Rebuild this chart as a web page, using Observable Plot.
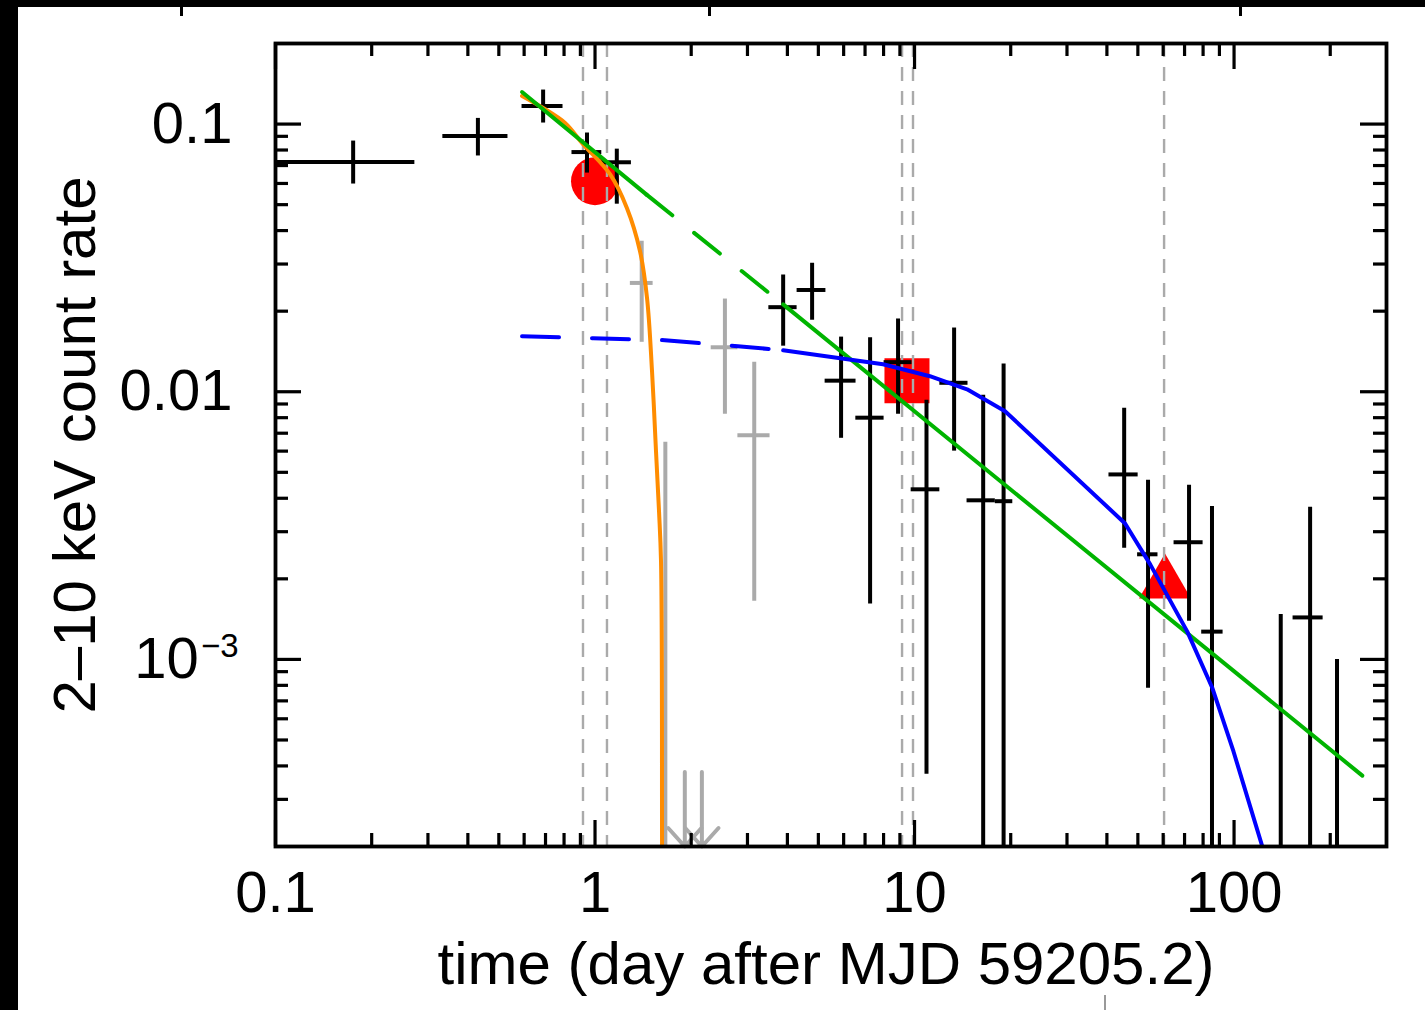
<!DOCTYPE html>
<html><head><meta charset="utf-8">
<script src="https://cdn.jsdelivr.net/npm/d3@7"></script>
<script src="https://cdn.jsdelivr.net/npm/@observablehq/plot@0.6"></script>
<style>
html,body{margin:0;padding:0;background:#fff;}
#wrap{position:relative;width:1425px;height:1010px;overflow:hidden;background:#fff;}
#wrap svg{position:absolute;left:0;top:0;}
.deco{position:absolute;}
</style></head><body>
<div id="wrap"></div>
<script>
// ---------- axes ----------
const xDomain = [0.1, 300];
const yDomain = [2e-4, 0.2];
const xTickValues = [0.1, 1, 10, 100];
const xTickLabels = ["0.1", "1", "10", "100"];
const yTickValues = [0.1, 0.01, 0.001];
const yTickLabels = ["0.1", "0.01", "10⁻³"];
const xMinorTicks = [0.2,0.3,0.4,0.5,0.6,0.7,0.8,0.9, 2,3,4,5,6,7,8,9, 20,30,40,50,60,70,80,90, 200];
const yMinorTicks = [3e-4,4e-4,5e-4,6e-4,7e-4,8e-4,9e-4, 0.002,0.003,0.004,0.005,0.006,0.007,0.008,0.009, 0.02,0.03,0.04,0.05,0.06,0.07,0.08,0.09];
const xLabel = "time (day after MJD 59205.2)";
const yLabel = "2–10 keV count rate";

// ---------- black data points (time, time lo, time hi, rate, rate lo, rate hi) ----------
const blackT   = [0.175, 0.430, 0.688, 0.944, 1.17, 3.88, 4.78, 5.89, 7.26, 8.88, 10.9, 13.3, 16.4, 19.0, 45.3, 53.8, 72.3, 85.3, 140, 173, 210];
const blackTlo = [0.077, 0.334, 0.591, 0.847, 1.05, 3.50, 4.29, 5.25, 6.55, 8.03, 9.76, 12.0, 14.6, 17.9, 40.6, 49.9, 64.9, 79.2, 128, 153, 192];
const blackThi = [0.273, 0.534, 0.794, 1.05, 1.30, 4.29, 5.28, 6.56, 8.03, 9.82, 12.0, 14.7, 17.9, 20.3, 50.1, 57.8, 80.0, 92.4, 152, 190, 228];
const blackR   = [0.0721, 0.0902, 0.1168, 0.0786, 0.0720, 0.0207, 0.0240, 0.0110, 0.0080, 0.0129, 0.00432, 0.0108, 0.00393, 0.00390, 0.00491, 0.00247, 0.00274, 0.00127, 0.00015, 0.001435, 0.00015];
const blackRlo = [0.0597, 0.0760, 0.1009, 0.0656, 0.0502, 0.0148, 0.0185, 0.0067, 0.00161, 0.00824, 0.000372, 0.0060, 0.00001, 0.00001, 0.0026, 0.00078, 0.00139, 0.00001, 0.00001, 0.00001, 0.00001];
const blackRhi = [0.0864, 0.105, 0.134, 0.0926, 0.0806, 0.0273, 0.0302, 0.0160, 0.0159, 0.0187, 0.00929, 0.0173, 0.0097, 0.0127, 0.00868, 0.00467, 0.00447, 0.00373, 0.00147, 0.0037, 0.0010];

// ---------- grey data points ----------
const greyT   = [1.40, 1.66, 2.55, 3.15];
const greyTlo = [1.29, 1.55, 2.31, 2.80];
const greyThi = [1.52, 1.78, 2.80, 3.53];
const greyR   = [0.0255, 0.00015, 0.01466, 0.00688];
const greyRlo = [0.0153, 0.00001, 0.00824, 0.00165];
const greyRhi = [0.0365, 0.00647, 0.0222, 0.0129];

// ---------- grey upper limits ----------
const limitT = [1.91, 2.16];
const limitR = [3.8e-4, 3.8e-4];

// ---------- red markers ----------
const redT = [1.0, 9.47, 60.8];
const redR = [0.0612, 0.0110, 0.00192];
const redSymbol = ["circle", "square", "triangle"];
const redSize = [24, 25.4, 19.3];

// ---------- dashed vertical markers ----------
const dashT = [0.917, 1.09, 9.14, 9.89, 60.4];

// ---------- model curves ----------
const orangeT = [0.591, 0.688, 0.806, 0.917, 1.114, 1.259, 1.383, 1.455, 1.508, 1.552, 1.586, 1.609, 1.621, 1.621];
const orangeR = [0.1273, 0.1148, 0.1009, 0.0842, 0.0650, 0.0485, 0.0335, 0.02236, 0.01193, 0.00599, 0.00358, 0.00232, 0.0002, 0.00001];

const greenSolid1T = [0.591, 1.45];
const greenSolid1R = [0.1317, 0.0545];
const greenDashT = [1.45, 3.88];
const greenDashR = [0.0545, 0.0212];
const greenSolid2T = [3.88, 252];
const greenSolid2R = [0.0212, 3.68e-4];

const blueDashT = [0.591, 0.986, 1.655, 2.80, 3.88];
const blueDashR = [0.01612, 0.01585, 0.01558, 0.01479, 0.01429];
const blueSolidT = [3.88, 7.97, 11.17, 14.6, 19.2, 45.6, 54.7, 71.4, 85.6, 99.6, 122.6, 130];
const blueSolidR = [0.01429, 0.01267, 0.01143, 0.01021, 0.00846, 0.00322, 0.00226, 0.00127, 0.00078, 0.000453, 0.00020, 0.00015];

// ---------- build tables ----------
const zip = (keys, arrs) => arrs[0].map((_, i) => Object.fromEntries(keys.map((k, j) => [k, arrs[j][i]])));
const black = zip(["t","tlo","thi","r","rlo","rhi"], [blackT, blackTlo, blackThi, blackR, blackRlo, blackRhi]);
const grey = zip(["t","tlo","thi","r","rlo","rhi"], [greyT, greyTlo, greyThi, greyR, greyRlo, greyRhi]);
const limits = zip(["t","r"], [limitT, limitR]);
const red = zip(["t","r","symbol","size"], [redT, redR, redSymbol, redSize]);
const orange = zip(["t","r"], [orangeT, orangeR]);
const g1 = zip(["t","r"], [greenSolid1T, greenSolid1R]);
const g2 = zip(["t","r"], [greenDashT, greenDashR]);
const g3 = zip(["t","r"], [greenSolid2T, greenSolid2R]);
const b1 = zip(["t","r"], [blueDashT, blueDashR]);
const b2 = zip(["t","r"], [blueSolidT, blueSolidR]);

const W = 1425, H = 1010, mL = 275, mR = 39, mT = 43, mB = 164;
const innerH = H - mT - mB, innerW = W - mL - mR;
const majorLen = 26, minorLen = 13;
const tk = {stroke: "black", strokeWidth: 3.2};
const errW = 4;
const lineW = 4;
const GREY = "#aaaaaa";

const fmtX = d => xTickLabels[xTickValues.indexOf(d)];
const fmtY = d => yTickLabels[yTickValues.indexOf(d)];

const redMarks = red.map(d => Plot.dot([d], {x: "t", y: "r", symbol: d.symbol, r: d.size, fill: "#ff0000", stroke: "none"}));

const chart = Plot.plot({
  width: W, height: H,
  marginLeft: mL, marginRight: mR, marginTop: mT, marginBottom: mB,
  style: {fontFamily: "'Liberation Sans', Arial, Helvetica, sans-serif", background: "transparent", color: "black"},
  x: {type: "log", domain: xDomain},
  y: {type: "log", domain: yDomain},
  marks: [
    // red markers
    ...redMarks,
    // dashed verticals
    Plot.ruleX(dashT, {x: d => d, stroke: GREY, strokeWidth: 2.4, strokeDasharray: "14,10"}),
    // grey data
    Plot.ruleX(grey, {x: "t", y1: "rlo", y2: "rhi", stroke: GREY, strokeWidth: errW, clip: true}),
    Plot.ruleY(grey, {y: "r", x1: "tlo", x2: "thi", stroke: GREY, strokeWidth: errW, clip: true}),
    Plot.arrow(limits, {x1: "t", x2: "t", y1: "r", y2: () => yDomain[0], stroke: GREY, strokeWidth: 4, headAngle: 84, headLength: 40}),
    // black data
    Plot.ruleX(black, {x: "t", y1: "rlo", y2: "rhi", stroke: "black", strokeWidth: errW, clip: true}),
    Plot.ruleY(black, {y: "r", x1: "tlo", x2: "thi", stroke: "black", strokeWidth: errW, clip: true}),
    // model curves
    Plot.line(orange, {x: "t", y: "r", stroke: "#ff8c00", strokeWidth: lineW, curve: "catmull-rom", clip: true}),
    Plot.line(g1, {x: "t", y: "r", stroke: "#00b400", strokeWidth: lineW, clip: true}),
    Plot.line(g2, {x: "t", y: "r", stroke: "#00b400", strokeWidth: lineW, strokeDasharray: "33,28", clip: true}),
    Plot.line(g3, {x: "t", y: "r", stroke: "#00b400", strokeWidth: lineW, clip: true}),
    Plot.line(b1, {x: "t", y: "r", stroke: "#0000ff", strokeWidth: lineW, strokeDasharray: "37,33", clip: true}),
    Plot.line(b2, {x: "t", y: "r", stroke: "#0000ff", strokeWidth: lineW, clip: true}),
    // inward ticks on all four sides
    Plot.tickX(xTickValues, {x: d => d, insetTop: innerH - majorLen, ...tk}),
    Plot.tickX(xMinorTicks, {x: d => d, insetTop: innerH - minorLen, ...tk}),
    Plot.tickX(xTickValues, {x: d => d, insetBottom: innerH - majorLen, ...tk}),
    Plot.tickX(xMinorTicks, {x: d => d, insetBottom: innerH - minorLen, ...tk}),
    Plot.tickY(yTickValues, {y: d => d, insetRight: innerW - majorLen, ...tk}),
    Plot.tickY(yMinorTicks, {y: d => d, insetRight: innerW - minorLen, ...tk}),
    Plot.tickY(yTickValues, {y: d => d, insetLeft: innerW - majorLen, ...tk}),
    Plot.tickY(yMinorTicks, {y: d => d, insetLeft: innerW - minorLen, ...tk}),
    Plot.frame({stroke: "black", strokeWidth: 3.8}),
    // axes labels
    Plot.axisX(xTickValues, {tickFormat: fmtX, tickSize: 0, tickPadding: 24, fontSize: 58, label: null}),
    Plot.axisX([], {tickSize: 0, label: xLabel, labelAnchor: "center", labelOffset: 137, labelArrow: "none", fontSize: 60}),
    Plot.axisY(yTickValues, {tickFormat: fmtY, tickSize: 0, tickPadding: 43, fontSize: 58, label: null}),
    Plot.axisY([], {tickSize: 0, label: yLabel, labelAnchor: "center", labelOffset: 223, labelArrow: "none", fontSize: 60})
  ]
});

// superscript exponent on the 10^-3 label
chart.querySelectorAll("text").forEach(t => {
  if (t.textContent === "10⁻³") {
    t.textContent = "";
    const ns = "http://www.w3.org/2000/svg";
    const a = document.createElementNS(ns, "tspan"); a.textContent = "10";
    const b = document.createElementNS(ns, "tspan"); b.textContent = "−3";
    b.setAttribute("dy", "-21"); b.setAttribute("dx", "2"); b.setAttribute("font-size", "33");
    t.appendChild(a); t.appendChild(b);
    t.setAttribute("dx", "6");
  }
});
// nudge the x-axis title to the reference position
chart.querySelectorAll("text").forEach(t => {
  if (t.textContent === xLabel) t.setAttribute("transform", (t.getAttribute("transform") || "") + " translate(-5,0)");
});

const wrap = document.getElementById("wrap");
wrap.appendChild(chart);
// dark scan borders of the source image
const deco = [
  {l: 0, t: 0, w: 18, h: 1010, c: "#000"},
  {l: 0, t: 0, w: 1425, h: 7, c: "#000"},
  {l: 180, t: 7, w: 3, h: 9, c: "#000"},
  {l: 708, t: 7, w: 3, h: 9, c: "#000"},
  {l: 1239, t: 7, w: 3, h: 9, c: "#000"},
  {l: 1104, t: 995, w: 2, h: 15, c: "#999"}
];
deco.forEach(d => {
  const e = document.createElement("div");
  e.className = "deco";
  Object.assign(e.style, {left: d.l + "px", top: d.t + "px", width: d.w + "px", height: d.h + "px", background: d.c});
  wrap.appendChild(e);
});
</script>
</body></html>
